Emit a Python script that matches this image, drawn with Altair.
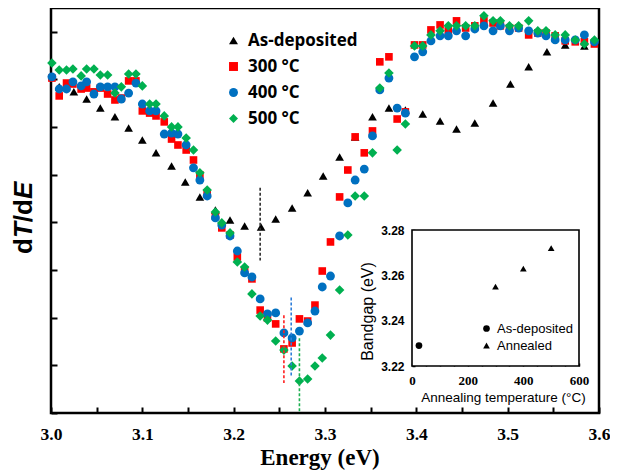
import altair as alt
import pandas as pd

# ---------------- data ----------------
energy = [3.001, 3.009, 3.017, 3.024, 3.033, 3.039, 3.047, 3.054, 3.062, 3.070,
          3.077, 3.085, 3.093, 3.100, 3.108, 3.115, 3.124, 3.132, 3.139, 3.148,
          3.156, 3.163, 3.171, 3.180, 3.187, 3.196, 3.204, 3.212, 3.220, 3.229,
          3.237, 3.246, 3.255, 3.264, 3.272, 3.281, 3.289, 3.297, 3.306, 3.316,
          3.325, 3.333, 3.343, 3.352, 3.360, 3.370, 3.379, 3.388, 3.398, 3.407,
          3.416, 3.426, 3.435, 3.444, 3.454, 3.464, 3.474, 3.484, 3.492, 3.502,
          3.512, 3.523, 3.533, 3.542, 3.552, 3.563, 3.574, 3.584, 3.595]

red_300 = [14.06, 13.31, 13.85, 13.81, 13.60, 13.64, 13.48, 13.64, 13.39, 13.14,
           13.22, 13.94, 13.94, 12.68, 12.59, 12.47, 12.22, 11.50, 11.25, 11.04,
           10.62, 9.99, 9.24, 8.27, 7.77, 7.47, 6.55, 6.00, 5.63, 4.32,
           3.99, 3.74, 2.69, 2.94, 3.95, 3.86, 4.53, 5.96, 7.18, 9.07,
           10.20, 11.59, 10.92, 11.84, 14.74, 14.95, 12.34, 12.64, 15.45, 15.45,
           16.08, 16.29, 16.04, 16.46, 16.16, 16.25, 16.46, 16.37, 16.25, 16.16,
           16.16, 15.87, 15.95, 15.95, 15.83, 15.62, 15.58, 15.58, 15.49]

blue_400 = [14.11, 13.60, 13.60, 13.90, 13.73, 13.90, 13.39, 13.69, 13.69, 13.69,
            13.18, 13.43, 13.85, 12.97, 12.68, 12.68, 11.71, 11.75, 11.71, 11.25,
            10.29, 9.78, 9.11, 8.19, 7.89, 7.43, 6.80, 5.88, 5.71, 4.79,
            4.16, 4.20, 3.36, 3.15, 3.44, 3.78, 4.28, 5.29, 5.75, 7.43,
            8.82, 9.78, 10.24, 11.63, 13.56, 14.06, 12.80, 12.59, 14.95, 15.16,
            15.62, 15.83, 15.83, 16.04, 15.83, 16.12, 16.25, 16.04, 16.25, 16.04,
            16.16, 16.04, 15.95, 15.83, 15.66, 15.66, 15.66, 15.87, 15.58]

green_500 = [14.69, 14.40, 14.40, 14.44, 14.15, 14.44, 14.44, 14.19, 14.19, 13.43,
             13.69, 14.23, 14.23, 13.73, 12.97, 12.97, 12.47, 12.01, 12.01, 11.54,
             11.04, 10.08, 9.36, 8.44, 7.98, 7.56, 6.34, 6.13, 5.00, 4.07,
             3.90, 3.02, 2.64, 1.97, 1.34, 1.43, 1.97, 2.31, 3.27, 5.16,
             7.47, 9.11, 9.11, 10.92, 13.64, 14.27, 11.04, 12.13, 15.41, 15.41,
             15.87, 16.04, 16.25, 16.25, 16.25, 16.25, 16.67, 16.46, 16.46, 16.25,
             16.25, 16.46, 16.04, 16.04, 15.87, 15.87, 15.66, 15.49, 15.66]

asdep_energy = [3.009, 3.025, 3.039, 3.054, 3.070, 3.085, 3.100, 3.115, 3.132, 3.147,
                3.163, 3.180, 3.196, 3.212, 3.230, 3.246, 3.264, 3.281, 3.298, 3.316,
                3.333, 3.352, 3.370, 3.388, 3.407, 3.426, 3.444, 3.464, 3.484, 3.503,
                3.523, 3.543, 3.563, 3.584]
asdep_vals = [13.69, 13.48, 13.18, 12.80, 12.43, 11.96, 11.46, 10.92, 10.37, 9.70,
              9.07, 8.52, 8.10, 7.85, 7.81, 8.14, 8.61, 9.24, 9.95, 10.75,
              11.59, 12.43, 12.80, 12.72, 12.55, 12.26, 11.92, 12.17, 13.01, 13.81,
              14.53, 15.16, 15.45, 15.41]

series_names = ["As-deposited", "300 °C", "400 °C", "500 °C"]
series_colors = ["#000000", "#FF0000", "#0070C0", "#00B050"]
series_shapes = ["triangle-up", "square", "circle", "diamond"]
series_sizes = [75, 58, 78, 92]

gap_energy = [3.229, 3.255, 3.263, 3.272]
gap_top = [9.46, 4.10, 4.85, 3.14]
gap_bottom = [6.40, 1.26, 1.51, 0.0]
dash_colors = ["#303030", "#FF2020", "#2F7FDA", "#1DB050"]

inset_temp = [25, 300, 400, 500]
inset_gap = [3.229, 3.255, 3.263, 3.272]
inset_kind = ["As-deposited", "Annealed", "Annealed", "Annealed"]
inset_kinds = ["As-deposited", "Annealed"]

x_ticks = [3.0, 3.05, 3.1, 3.15, 3.2, 3.25, 3.3, 3.35, 3.4, 3.45, 3.5, 3.55, 3.6]
y_ticks = list(range(0, 18))
inset_x_ticks = [0, 50, 100, 150, 200, 250, 300, 350, 400, 450, 500, 550, 600]
inset_y_ticks = [3.22, 3.23, 3.24, 3.25, 3.26, 3.27, 3.28]

# ---------------- tables ----------------
rows = []
for e, v in zip(asdep_energy, asdep_vals):
    rows.append({"E": e, "v": v, "series": series_names[0]})
for name, vals in zip(series_names[1:], [red_300, blue_400, green_500]):
    for e, v in zip(energy, vals):
        rows.append({"E": e, "v": v, "series": name})
pts = pd.DataFrame(rows)

gaps = pd.DataFrame({"E": gap_energy, "v": gap_top, "v2": gap_bottom, "c": dash_colors})
inset = pd.DataFrame({"T": inset_temp, "G": inset_gap, "kind": inset_kind})
frame = pd.DataFrame({"T": [inset_x_ticks[0]], "T2": [inset_x_ticks[-1]],
                      "G": [inset_y_ticks[0]], "G2": [inset_y_ticks[-1]]})
one = pd.DataFrame({"k": [0]})

W, H = 548, 405
TK = 6

x_main = alt.X("E:Q",
               scale=alt.Scale(domain=[3.0, 3.6], nice=False, zero=False),
               axis=alt.Axis(orient="bottom", values=x_ticks, offset=-TK, tickSize=TK,
                             tickWidth=2, domain=False, grid=False, title=None,
                             labelExpr="round(datum.value*20) % 2 == 0 ? format(datum.value, '.1f') : ''",
                             labelFont="Liberation Serif", labelFontSize=17.5,
                             labelFontWeight="bold", labelPadding=12,
                             labelFlush=False, labelOverlap=False))
y_main = alt.Y("v:Q",
               scale=alt.Scale(domain=[0, 17], nice=False, zero=False),
               axis=alt.Axis(orient="left", values=y_ticks, offset=-TK, tickSize=TK,
                             tickWidth=2, domain=False, grid=False, labels=False,
                             title=None))

legend_main = alt.Legend(orient="none", legendX=174, legendY=24, title=None,
                         labelFont="Open Sans", labelFontSize=17,
                         labelFontWeight="bold", labelColor="black",
                         symbolSize=80, symbolStrokeWidth=0, labelOffset=6,
                         rowPadding=8, padding=0)

color_enc = alt.Color("series:N", scale=alt.Scale(domain=series_names, range=series_colors),
                      legend=legend_main)
shape_enc = alt.Shape("series:N", scale=alt.Scale(domain=series_names, range=series_shapes),
                      legend=legend_main)

point_layers = []
for name, sz in zip(series_names, series_sizes):
    point_layers.append(
        alt.Chart(pts).transform_filter(alt.datum.series == name)
        .mark_point(filled=True, size=sz, opacity=1)
        .encode(x=x_main, y=y_main, color=color_enc, shape=shape_enc)
    )

rules = alt.Chart(gaps).mark_rule(strokeDash=[3, 2], strokeWidth=1.6).encode(
    x="E:Q", y="v:Q", y2="v2:Q", color=alt.Color("c:N", scale=None)
)


def ytitle_piece(txt, ypos, style):
    return alt.Chart(one).mark_text(
        angle=270, align="left", baseline="alphabetic", font="Liberation Sans",
        fontSize=26, fontWeight="bold", fontStyle=style, color="black"
    ).encode(x=alt.value(-19), y=alt.value(ypos), text=alt.value(txt))


yt = [ytitle_piece("d", 246, "normal"), ytitle_piece("T", 230.1, "italic"),
      ytitle_piece("/d", 214.2, "normal"), ytitle_piece("E", 191.1, "italic")]

xtitle = alt.Chart(one).mark_text(
    font="Liberation Serif", fontSize=23, fontWeight="bold", align="center",
    baseline="alphabetic", color="black"
).encode(x=alt.value(269), y=alt.value(456.5), text=alt.value("Energy (eV)"))

main = alt.layer(*point_layers, rules, *yt, xtitle)

# ---------------- inset ----------------
IL, IR, IT, IB = 361, 528, 222, 358
ITK = 3
x_in = alt.X("T:Q",
             scale=alt.Scale(domain=[0, 600], range=[IL, IR], nice=False, zero=False),
             axis=alt.Axis(orient="bottom", values=inset_x_ticks, offset=-(H - IB) - ITK,
                           tickSize=ITK, tickWidth=1.5, domain=False, grid=False,
                           labelExpr="datum.value % 200 == 0 ? datum.label : ''",
                           labelFont="Liberation Serif", labelFontWeight="bold",
                           labelFontSize=13, labelPadding=8, labelFlush=False,
                           labelOverlap=False,
                           title="Annealing temperature (°C)", titleFont="Liberation Sans",
                           titleFontSize=13.5, titleFontWeight="normal",
                           titleX=452, titleY=27, titleAlign="center", titleBaseline="top"))
y_in = alt.Y("G:Q",
             scale=alt.Scale(domain=[3.22, 3.28], range=[IB, IT], nice=False, zero=False),
             axis=alt.Axis(orient="left", values=inset_y_ticks, offset=-IL - ITK,
                           tickSize=ITK, tickWidth=1.5, domain=False, grid=False,
                           labelExpr="round(datum.value*100) % 2 == 0 ? format(datum.value, '.2f') : ''",
                           labelFont="Liberation Sans", labelFontWeight="bold",
                           labelFontSize=12, labelPadding=8, labelFlush=False,
                           labelOverlap=False,
                           title="Bandgap (eV)", titleFont="Liberation Sans",
                           titleFontSize=16, titleFontWeight="normal",
                           titleX=-40, titleY=303, titleAlign="center",
                           titleBaseline="bottom", titleAngle=270))

inset_frame = alt.Chart(frame).mark_rect(fill="white", stroke="black", strokeWidth=1.6).encode(
    x=x_in, x2="T2:Q", y=y_in, y2="G2:Q"
)
inset_pts = alt.Chart(inset).mark_point(filled=True, size=45, color="black", opacity=1).encode(
    x=x_in, y=y_in,
    shape=alt.Shape("kind:N", scale=alt.Scale(domain=inset_kinds, range=["circle", "triangle-up"]),
                    legend=alt.Legend(orient="none", legendX=429, legendY=314, title=None,
                                      labelFont="Liberation Sans", labelFontSize=13,
                                      labelColor="black", symbolSize=45,
                                      symbolFillColor="black", symbolStrokeWidth=0,
                                      labelOffset=4, rowPadding=3, padding=0))
)
inset_layer = alt.layer(inset_frame, inset_pts)

chart = alt.layer(main, inset_layer).resolve_scale(
    x="independent", y="independent", shape="independent", color="independent"
).resolve_axis(x="independent", y="independent").resolve_legend(
    shape="independent", color="independent"
).properties(
    width=W, height=H,
    padding={"left": 43, "top": 0, "right": 11, "bottom": 57},
    autosize=alt.AutoSizeParams(type="none"),
    background="white",
).configure_view(stroke="black", strokeWidth=2.5).configure_axis(
    labelColor="black", tickColor="black", titleColor="black"
)

chart.save("out.html", embed_options={"renderer": "svg", "actions": False})
